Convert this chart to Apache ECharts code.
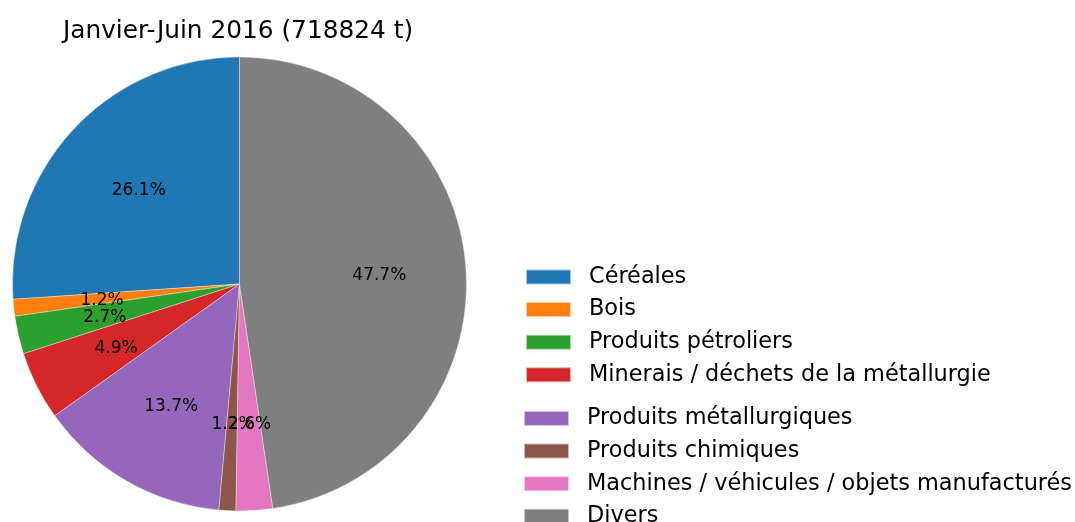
<!DOCTYPE html>
<html>
<head>
<meta charset="utf-8">
<script src="https://cdn.jsdelivr.net/npm/echarts@6/dist/echarts.min.js"></script>
<style>
  html, body { margin: 0; padding: 0; background: #fff; }
  #chart { width: 1075px; height: 522px; }
</style>
</head>
<body>
<div id="chart"></div>
<script>
// Trafic janvier-juin 2016, part de chaque famille de marchandises (%)
const titleText = 'Janvier-Juin 2016 (718824 t)';
const categories = [
  'Céréales',
  'Bois',
  'Produits pétroliers',
  'Minerais / déchets de la métallurgie',
  'Produits métallurgiques',
  'Produits chimiques',
  'Machines / véhicules / objets manufacturés',
  'Divers'
];
const shares = [26.1, 1.2, 2.7, 4.9, 13.7, 1.2, 2.6, 47.7];
const colors = ['#1f77b4', '#ff7f0e', '#2ca02c', '#d62728', '#9467bd', '#8c564b', '#e377c2', '#7f7f7f'];

const FONT = 'DejaVu Sans';
const center = [239.5, 284];
const R = 227;

const pieData = categories.map((name, i) => ({ name, value: shares[i] }));

const chart = echarts.init(document.getElementById('chart'), null, { renderer: 'canvas' });

const legendBase = {
  orient: 'vertical',
  icon: 'rect',
  padding: 0,
  height: 150,
  itemWidth: 45,
  itemHeight: 15,
  itemGap: 10.6,
  selectedMode: false,
  textStyle: {
    fontFamily: FONT,
    fontSize: 22.4,
    lineHeight: 22,
    color: '#000',
    padding: [0, 0, 0, 13]
  }
};

chart.setOption({
  animation: false,
  color: colors,
  title: {
    text: titleText,
    left: 238,
    top: 19,
    padding: 0,
    textAlign: 'center',
    textStyle: { fontFamily: FONT, fontSize: 24.8, fontWeight: 'normal', color: '#000' }
  },
  legend: [
    Object.assign({}, legendBase, { left: 525, top: 266, data: categories.slice(0, 4) }),
    Object.assign({}, legendBase, { left: 523, top: 407.5, data: categories.slice(4) })
  ],
  series: [
    {
      // filled wedges, counter-clockwise from 12 o'clock
      type: 'pie',
      center: center,
      radius: [0, R],
      startAngle: 90,
      clockwise: false,
      data: pieData,
      label: { show: false },
      labelLine: { show: false },
      itemStyle: { borderWidth: 0.6, borderColor: 'rgba(255,255,255,0.6)' },
      emphasis: { disabled: true }
    },
    {
      // transparent ring whose midline sits at 0.6 R, carrying the percentage labels
      type: 'pie',
      center: center,
      radius: [R * 0.2, R],
      startAngle: 90,
      clockwise: false,
      silent: true,
      data: pieData,
      itemStyle: { color: 'rgba(0,0,0,0)' },
      labelLine: { show: false },
      labelLayout: { hideOverlap: false },
      label: {
        show: true,
        position: 'inside',
        fontFamily: FONT,
        fontSize: 17,
        color: '#000',
        offset: [1, 2],
        formatter: p => p.value.toFixed(1) + '%'
      },
      emphasis: { disabled: true }
    }
  ]
});
</script>
</body>
</html>
